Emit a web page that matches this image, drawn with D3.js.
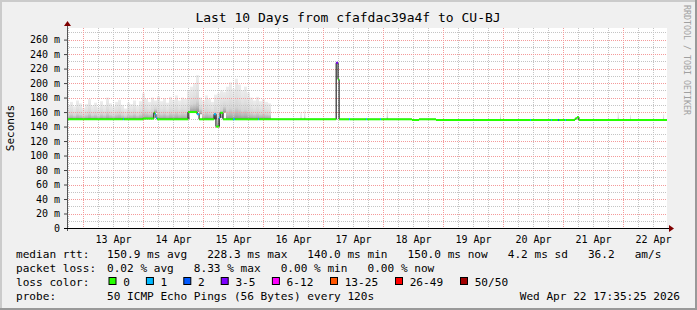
<!DOCTYPE html>
<html>
<head>
<meta charset="utf-8">
<script src="https://cdn.jsdelivr.net/npm/d3@7"></script>
<style>
    body { margin: 0; background: #f0f0f0; }
    text { font-family: 'DejaVu Sans Mono', monospace; white-space: pre; }
</style>
</head>
<body>
<div id="container"></div>
<script>
// chart data
const title = 'Last 10 Days from cfafdac39a4f to CU-BJ';
const startTime = '2026-04-12 17:35';
const endTime = '2026-04-22 17:35';
const yTicks = [0, 20, 40, 60, 80, 100, 120, 140, 160, 180, 200, 220, 240, 260];
const yMinor = [10, 30, 50, 70, 90, 110, 130, 150, 170, 190, 210, 230, 250, 270];

// median rtt (ms) as steps, with the number of lost pings for each step
const medTimes = ['2026-04-12 17:35', '2026-04-13 16:00', '2026-04-13 16:24', '2026-04-14 00:00',
    '2026-04-14 04:20', '2026-04-14 04:45', '2026-04-14 05:10', '2026-04-14 05:35',
    '2026-04-14 18:00', '2026-04-14 21:35', '2026-04-14 22:25', '2026-04-15 04:25',
    '2026-04-15 05:10', '2026-04-15 06:25', '2026-04-15 06:50', '2026-04-15 08:00',
    '2026-04-15 12:00', '2026-04-15 12:48', '2026-04-15 22:00', '2026-04-15 22:24',
    '2026-04-17 05:15', '2026-04-17 06:00', '2026-04-17 06:25', '2026-04-17 10:23',
    '2026-04-17 10:47', '2026-04-17 17:11', '2026-04-17 17:35', '2026-04-17 22:47',
    '2026-04-17 23:11', '2026-04-18 11:35', '2026-04-18 14:23', '2026-04-18 21:11',
    '2026-04-20 10:47', '2026-04-20 11:11', '2026-04-20 19:11', '2026-04-20 19:35',
    '2026-04-20 22:00', '2026-04-20 22:24', '2026-04-21 00:47', '2026-04-21 01:11',
    '2026-04-21 04:47', '2026-04-21 05:35', '2026-04-21 06:20'];
const medValues = [150, 150, 150, 151,
    159, 157, 152, 150,
    160, 157, 150, 157,
    140, 152, 159, 150,
    150, 150, 150, 150,
    228, 205, 150, 150,
    150, 150, 150, 150,
    150, 149, 150, 149,
    149, 149, 149, 149,
    149, 149, 149, 149,
    151, 153, 149];
const medLoss = [0, 1, 0, 0,
    0, 1, 1, 0,
    0, 1, 0, 1,
    0, 1, 0, 0,
    1, 0, 1, 0,
    4, 0, 0, 1,
    0, 1, 0, 1,
    0, 0, 0, 0,
    1, 0, 1, 0,
    2, 0, 1, 0,
    0, 0, 0];

// smoke: highest ping (ms) per 72 minute column from the start
const smokeStepMin = 72;
const smokeMax = [170, 174, 168, 176, 172, 166, 171, 178, 169, 173, 167, 175, 170, 180, 172, 168,
    174, 177, 170, 165, 173, 171, 176, 169, 175, 186,
    178, 174, 180, 176, 182, 175, 179, 173, 181, 177, 183, 176, 180, 178, 190,
    195, 200, 211,
    180, 176, 183, 178, 174, 184,
    186, 190, 188, 195, 201, 192, 206,
    198, 190, 195, 187,
    180, 176, 181, 175, 178, 174, 172];
// isolated smoke later on
const extraSmokeTimes = ['2026-04-16 15:00', '2026-04-16 16:30', '2026-04-18 01:30', '2026-04-19 22:47',
    '2026-04-21 21:53', '2026-04-22 02:47', '2026-04-22 16:00'];
const extraSmokeMax = [160, 163, 165, 158, 160, 156, 157];

// legend
const medianStats = ['150.9 ms avg', '228.3 ms max', '140.0 ms min', '150.0 ms now', '4.2 ms sd', '36.2', 'am/s'];
const lossStats = ['0.02 % avg', '8.33 % max', '0.00 % min', '0.00 % now'];
const lossLabels = ['0', '1', '2', '3-5', '6-12', '13-25', '26-49', '50/50'];
const lossColors = ['#26ff00', '#00b8ff', '#0059ff', '#7e00ff', '#ff00ff', '#ff5500', '#ff0000', '#a10000'];
const probeText = '50 ICMP Echo Pings (56 Bytes) every 120s';
const stampText = 'Wed Apr 22 17:35:25 2026';

const W = 697, H = 310;
const plot = { left: 67, right: 667, top: 28, bottom: 228 };

let parse = d3.timeParse('%Y-%m-%d %H:%M');
let t0 = parse(startTime), t1 = parse(endTime);

let x = d3.scaleTime().domain([t0, t1]).range([plot.left, plot.right]);
let y = d3.scaleLinear().domain([0, 276]).range([plot.bottom, plot.top]);
let lossColor = d3.scaleThreshold().domain([1, 2, 3, 6, 13, 26, 50]).range(lossColors);

let viz = d3.select('#container')
    .append('svg')
    .attr('width', W)
    .attr('height', H);

// background and shaded frame
viz.append('rect').attr('width', W).attr('height', H).attr('fill', '#f0f0f0');
viz.append('path').attr('d', `M0,0 H${W} V2 H2 V${H} H0 Z`).attr('fill', '#cbcbcb');
viz.append('path').attr('d', `M${W},${H} H0 V${H - 2} H${W - 2} V0 H${W} Z`).attr('fill', '#999999');

viz.append('rect')
    .attr('x', plot.left).attr('y', plot.top)
    .attr('width', plot.right - plot.left).attr('height', plot.bottom - plot.top)
    .attr('fill', '#ffffff');

let defs = viz.append('defs');
let grad = defs.append('linearGradient').attr('id', 'smoke')
    .attr('x1', 0).attr('y1', 1).attr('x2', 0).attr('y2', 0);
grad.append('stop').attr('offset', 0).attr('stop-color', '#909090');
grad.append('stop').attr('offset', 0.12).attr('stop-color', '#b4b4b4');
grad.append('stop').attr('offset', 0.3).attr('stop-color', '#d4d4d4');
grad.append('stop').attr('offset', 0.6).attr('stop-color', '#e2e2e2');
grad.append('stop').attr('offset', 1).attr('stop-color', '#ededed');

// median lookup for the bottom of each smoke column
let medDates = medTimes.map(parse);
let bis = d3.bisector(d => d).right;
function medianAt(t) {
    let i = Math.max(0, bis(medDates, t) - 1);
    return medValues[i];
}

// smoke columns
let smokeCols = smokeMax.map((v, i) => {
    let a = d3.timeMinute.offset(t0, i * smokeStepMin);
    let b = d3.timeMinute.offset(t0, (i + 1) * smokeStepMin);
    return { a: a, b: b, max: v };
});
extraSmokeTimes.forEach((s, i) => {
    let a = parse(s);
    smokeCols.push({ a: a, b: d3.timeMinute.offset(a, 24), max: extraSmokeMax[i] });
});

viz.append('g').selectAll('rect').data(smokeCols).enter()
    .append('rect')
    .attr('x', d => x(d.a))
    .attr('width', d => Math.max(1, x(d.b) - x(d.a)))
    .attr('y', d => y(d.max))
    .attr('height', d => y(medianAt(d.a)) - y(d.max))
    .attr('fill', 'url(#smoke)');

// grid
let grid = viz.append('g').attr('shape-rendering', 'crispEdges');
let hourLines = d3.timeHour.every(6).range(t0, t1).filter(d => d.getHours() != 0);
let dayLines = d3.timeDay.range(t0, t1);

grid.selectAll('.hmin').data(yMinor).enter().append('line')
    .attr('x1', plot.left).attr('x2', plot.right)
    .attr('y1', d => Math.round(y(d)) + 0.5).attr('y2', d => Math.round(y(d)) + 0.5)
    .attr('stroke', '#c4c4c4').attr('stroke-dasharray', '1,1');
grid.selectAll('.vmin').data(hourLines).enter().append('line')
    .attr('x1', d => Math.round(x(d)) + 0.5).attr('x2', d => Math.round(x(d)) + 0.5)
    .attr('y1', plot.top).attr('y2', plot.bottom)
    .attr('stroke', '#c4c4c4').attr('stroke-dasharray', '1,1');
grid.selectAll('.hmaj').data(yTicks.filter(d => d > 0)).enter().append('line')
    .attr('x1', plot.left).attr('x2', plot.right)
    .attr('y1', d => Math.round(y(d)) + 0.5).attr('y2', d => Math.round(y(d)) + 0.5)
    .attr('stroke', '#f49a9a').attr('stroke-dasharray', '1,1');
grid.selectAll('.vmaj').data(dayLines).enter().append('line')
    .attr('x1', d => Math.round(x(d)) + 0.5).attr('x2', d => Math.round(x(d)) + 0.5)
    .attr('y1', plot.top).attr('y2', plot.bottom)
    .attr('stroke', '#f49a9a').attr('stroke-dasharray', '1,1');

// median: thin black step line, then coloured pieces by loss
let steps = medDates.map((d, i) => ({ t: d, v: medValues[i], loss: medLoss[i] }));
steps.push({ t: t1, v: medValues[medValues.length - 1], loss: 0 });

viz.append('path')
    .datum(steps)
    .attr('d', d3.line().x(d => x(d.t)).y(d => y(d.v)).curve(d3.curveStepAfter))
    .attr('fill', 'none')
    .attr('stroke', '#000')
    .attr('stroke-width', 1);

viz.append('g').selectAll('line').data(steps.slice(0, -1)).enter()
    .append('line')
    .attr('x1', d => x(d.t))
    .attr('x2', (d, i) => x(steps[i + 1].t))
    .attr('y1', d => y(d.v))
    .attr('y2', d => y(d.v))
    .attr('stroke', d => lossColor(d.loss))
    .attr('stroke-width', 2);

// axes
let yAxis = viz.append('g')
    .attr('transform', `translate(${plot.left},0)`)
    .call(d3.axisLeft(y).tickValues(yTicks).tickSize(3).tickPadding(4)
        .tickFormat(d => d == 0 ? '0' : d + ' m'));
yAxis.select('.domain').remove();
yAxis.selectAll('line').attr('stroke', '#444');
yAxis.selectAll('text').attr('font-family', 'DejaVu Sans Mono').attr('font-size', 10).attr('fill', '#000');

let noons = dayLines.map(d => d3.timeHour.offset(d, 12));
let xAxis = viz.append('g')
    .attr('transform', `translate(0,${plot.bottom})`)
    .call(d3.axisBottom(x).tickValues(noons).tickSize(0).tickPadding(8)
        .tickFormat(d3.timeFormat('%d %b')));
xAxis.select('.domain').remove();
xAxis.selectAll('text').attr('font-family', 'DejaVu Sans Mono').attr('font-size', 10).attr('fill', '#000');

viz.append('line')
    .attr('x1', plot.left + 0.5).attr('x2', plot.left + 0.5)
    .attr('y1', plot.bottom + 3).attr('y2', plot.top - 4)
    .attr('stroke', '#555');
viz.append('line')
    .attr('x1', plot.left - 3).attr('x2', plot.right + 3)
    .attr('y1', plot.bottom + 0.5).attr('y2', plot.bottom + 0.5)
    .attr('stroke', '#000');
viz.append('path')
    .attr('d', `M${plot.left - 3},${plot.top - 2} L${plot.left + 0.5},${plot.top - 7} L${plot.left + 4},${plot.top - 2} Z`)
    .attr('fill', '#7f0000');
viz.append('path')
    .attr('d', `M${plot.right + 2},${plot.bottom - 3} L${plot.right + 7},${plot.bottom + 0.5} L${plot.right + 2},${plot.bottom + 4} Z`)
    .attr('fill', '#7f0000');

// titles
viz.append('text')
    .attr('x', 348).attr('y', 22)
    .attr('text-anchor', 'middle')
    .attr('font-size', 13)
    .text(title);

viz.append('text')
    .attr('transform', 'translate(14,128) rotate(-90)')
    .attr('text-anchor', 'middle')
    .attr('font-size', 11)
    .text('Seconds');

viz.append('text')
    .attr('transform', 'translate(684,5) rotate(90)')
    .attr('font-size', 8.3)
    .attr('fill', '#a0a0a0')
    .text('RRDTOOL / TOBI OETIKER');

// legend
let fs = 11.1;
let col2 = 107;
viz.append('text').attr('x', 16).attr('y', 258).attr('font-size', fs).text('median rtt:');
viz.append('text').attr('x', col2).attr('y', 258).attr('font-size', fs).text(medianStats.join('   '));
viz.append('text').attr('x', 16).attr('y', 272).attr('font-size', fs).text('packet loss:');
viz.append('text').attr('x', col2).attr('y', 272).attr('font-size', fs).text(lossStats.join('   '));
viz.append('text').attr('x', 16).attr('y', 286).attr('font-size', fs).text('loss color:');

let bx = 108.5;
let boxes = lossLabels.map((l, i) => {
    let d = { label: l, color: lossColors[i], x: bx };
    bx += 30.5 + l.length * 6.9;
    return d;
});
let items = viz.append('g').selectAll('g').data(boxes).enter().append('g');
items.append('rect')
    .attr('x', d => d.x + 0.5).attr('y', 277.5)
    .attr('width', 7).attr('height', 7)
    .attr('fill', d => d.color)
    .attr('stroke', '#000');
items.append('text')
    .attr('x', d => d.x + 14.7).attr('y', 286)
    .attr('font-size', fs)
    .text(d => d.label);

viz.append('text').attr('x', 16).attr('y', 300).attr('font-size', fs).text('probe:');
viz.append('text').attr('x', col2).attr('y', 300).attr('font-size', fs).text(probeText);
viz.append('text').attr('x', 680).attr('y', 300).attr('text-anchor', 'end').attr('font-size', fs).text(stampText);
</script>
</body>
</html>
